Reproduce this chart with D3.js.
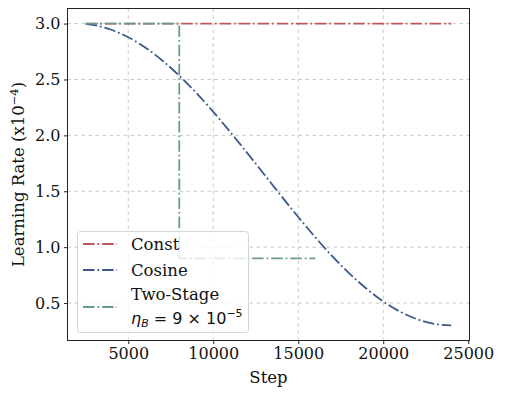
<!DOCTYPE html>
<html>
<head>
<meta charset="utf-8">
<script src="https://cdn.jsdelivr.net/npm/d3@7"></script>
<style>
body { margin: 0; background: #fff; }
svg text { font-family: "DejaVu Serif", serif; fill: #111; }
</style>
</head>
<body>
<script>
// learning rate schedules, values in units of 1e-4
var seriesNames = ["Const", "Cosine", "Two-Stage"];
var seriesColors = ["#bf5656", "#3a5a8a", "#6b9a8c"];

var constSteps = [2500, 24000];
var constLR = [3.0, 3.0];

var cosineSteps = [2500, 3000, 4000, 5000, 6000, 7000, 8000, 9000, 10000, 11000, 12000, 13000,
    14000, 15000, 16000, 17000, 18000, 19000, 20000, 21000, 22000, 23000, 24000];
var cosineLR = [2.997, 2.986, 2.945, 2.878, 2.786, 2.670, 2.534, 2.380, 2.211, 2.030, 1.842, 1.650,
    1.458, 1.270, 1.089, 0.920, 0.766, 0.630, 0.514, 0.422, 0.355, 0.314, 0.300];

var twoStageSteps = [2500, 8000, 8000, 16000];
var twoStageLR = [3.0, 3.0, 0.9, 0.9];

var xTicks = [5000, 10000, 15000, 20000, 25000];
var yTicks = [0.5, 1.0, 1.5, 2.0, 2.5, 3.0];

var width = 505,
    height = 395;
var margin = {left: 67.5, right: 35.5, top: 8.5, bottom: 54.5};

var svg = d3.select("body").append("svg")
    .attr("width", width)
    .attr("height", height);

var x = d3.scaleLinear()
    .domain([1425, 25075])
    .range([margin.left, width - margin.right]);
var y = d3.scaleLinear()
    .domain([0.165, 3.135])
    .range([height - margin.bottom, margin.top]);

//grid lines
svg.append("g").selectAll("line")
    .data(xTicks.filter(function(d){ return d < 25000; }))
    .enter().append("line")
    .attr("x1", function(d){ return x(d); })
    .attr("x2", function(d){ return x(d); })
    .attr("y1", margin.top)
    .attr("y2", height - margin.bottom)
    .attr("stroke", "#bdbdbd")
    .attr("stroke-width", 0.8)
    .attr("stroke-dasharray", "3.5,3.5");

svg.append("g").selectAll("line")
    .data(yTicks)
    .enter().append("line")
    .attr("x1", margin.left)
    .attr("x2", width - margin.right)
    .attr("y1", function(d){ return y(d); })
    .attr("y2", function(d){ return y(d); })
    .attr("stroke", "#bdbdbd")
    .attr("stroke-width", 0.8)
    .attr("stroke-dasharray", "3.5,3.5");

//axes
var xAxis = svg.append("g")
    .attr("transform", "translate(0," + (height - margin.bottom) + ")")
    .call(d3.axisBottom(x).tickValues(xTicks).tickFormat(d3.format("d")).tickSize(3.5).tickPadding(3.5));
var yAxis = svg.append("g")
    .attr("transform", "translate(" + margin.left + ",0)")
    .call(d3.axisLeft(y).tickValues(yTicks).tickFormat(d3.format(".1f")).tickSize(3.5).tickPadding(3.5));

[xAxis, yAxis].forEach(function(a){
    a.select(".domain").remove();
    a.selectAll("text")
        .style("font-family", "DejaVu Serif, serif")
        .style("font-size", "16px")
        .attr("fill", "#111");
    a.selectAll(".tick line").attr("stroke", "#222");
});

//frame
svg.append("rect")
    .attr("x", margin.left)
    .attr("y", margin.top)
    .attr("width", width - margin.left - margin.right)
    .attr("height", height - margin.top - margin.bottom)
    .attr("fill", "none")
    .attr("stroke", "#222")
    .attr("stroke-width", 1);

//labels
svg.append("text")
    .attr("x", x(13250))
    .attr("y", 383)
    .attr("text-anchor", "middle")
    .style("font-size", "16.5px")
    .text("Step");

var ylab = svg.append("text")
    .attr("transform", "translate(24," + ((margin.top + height - margin.bottom) / 2) + ") rotate(-90)")
    .attr("text-anchor", "middle")
    .style("font-size", "16.5px");
ylab.append("tspan").text("Learning Rate (x10");
ylab.append("tspan").attr("dy", -6).style("font-size", "11.5px").text("\u22124");
ylab.append("tspan").attr("dy", 6).text(")");

//lines
var line = d3.line()
    .x(function(d){ return x(d[0]); })
    .y(function(d){ return y(d[1]); });
var smooth = d3.line()
    .x(function(d){ return x(d[0]); })
    .y(function(d){ return y(d[1]); })
    .curve(d3.curveMonotoneX);

var dash = "11.5,2.9,1.8,2.9";
var seriesData = [
    d3.zip(constSteps, constLR),
    d3.zip(cosineSteps, cosineLR),
    d3.zip(twoStageSteps, twoStageLR)
];

seriesData.forEach(function(data, i){
    svg.append("path")
        .datum(data)
        .attr("d", i == 1 ? smooth : line)
        .attr("fill", "none")
        .attr("stroke", seriesColors[i])
        .attr("stroke-width", 1.8)
        .attr("stroke-dasharray", dash);
});

//legend
var legend = svg.append("g");
legend.append("rect")
    .attr("x", 77.5)
    .attr("y", 231.5)
    .attr("width", 171)
    .attr("height", 101)
    .attr("rx", 3)
    .attr("fill", "rgba(255,255,255,0.8)")
    .attr("stroke", "#d6d6d6")
    .attr("stroke-width", 1);

var handleY = [244, 270, 307];
seriesNames.forEach(function(name, i){
    legend.append("line")
        .attr("x1", 83)
        .attr("x2", 117)
        .attr("y1", handleY[i])
        .attr("y2", handleY[i])
        .attr("stroke", seriesColors[i])
        .attr("stroke-width", 1.8)
        .attr("stroke-dasharray", dash);
});

var legendText = [["Const", 250], ["Cosine", 276], ["Two-Stage", 300]];
legendText.forEach(function(t){
    legend.append("text")
        .attr("x", 131)
        .attr("y", t[1])
        .style("font-size", "16.5px")
        .text(t[0]);
});

var eta = legend.append("text")
    .attr("x", 131)
    .attr("y", 324)
    .style("font-family", "DejaVu Sans, sans-serif")
    .style("font-size", "16px");
eta.append("tspan").style("font-style", "italic").text("\u03b7");
eta.append("tspan").attr("dy", 3).style("font-size", "11px").style("font-style", "italic").text("B");
eta.append("tspan").attr("dy", -3).text(" = 9 \u00d7 10");
eta.append("tspan").attr("dy", -7).style("font-size", "11px").text("\u22125");
</script>
</body>
</html>
